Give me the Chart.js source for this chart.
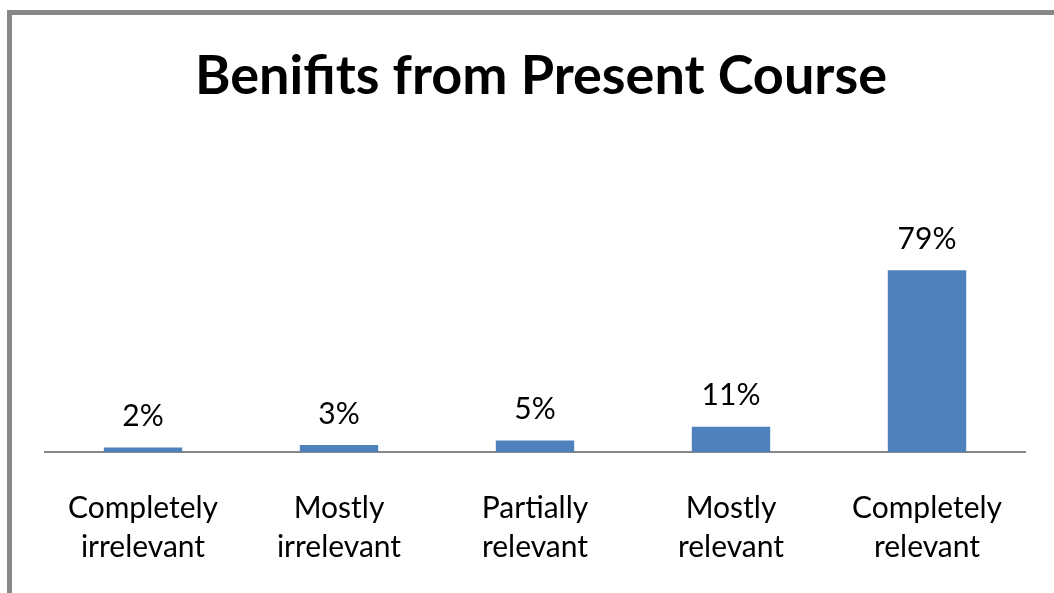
<!DOCTYPE html>
<html>
<head>
<meta charset="utf-8">
<script src="https://cdn.jsdelivr.net/npm/chart.js@4.4.1/dist/chart.umd.min.js"></script>
<style>
  body { margin: 0; background: #fff; }
  #wrap { position: relative; width: 1054px; height: 593px; overflow: hidden; }
  #frame { position: absolute; left: 7px; top: 10px; width: 1100px; height: 700px;
           border-left: 5px solid #888; border-top: 5px solid #888; }
  canvas { position: absolute; left: 0; top: 0; }
</style>
</head>
<body>
<div id="wrap">
  <div id="frame"></div>
  <canvas id="chart" width="1054" height="593"></canvas>
</div>
<script>
const chartTitle = 'Benifits from Present Course';
const categories = [
    ['Completely', 'irrelevant'],
    ['Mostly', 'irrelevant'],
    ['Partially', 'relevant'],
    ['Mostly', 'relevant'],
    ['Completely', 'relevant']
];
const percentages = [2, 3, 5, 11, 79];

const fontFamily = 'Lato, "Open Sans", sans-serif';

// title and value labels drawn on the canvas
const labelsPlugin = {
    id: 'labels',
    afterDatasetsDraw(chart) {
        const ctx = chart.ctx;
        ctx.save();
        ctx.fillStyle = '#000';
        ctx.textAlign = 'center';
        ctx.textBaseline = 'middle';
        ctx.font = '30px ' + fontFamily;
        chart.getDatasetMeta(0).data.forEach((bar, i) => {
            ctx.fillText(percentages[i] + '%', bar.x, bar.y - 31);
        });
        ctx.font = 'bold 54px ' + fontFamily;
        ctx.fillText(chartTitle, 541, 77);
        ctx.restore();
    }
};

const ctx = document.getElementById('chart').getContext('2d');
const chart = new Chart(ctx, {
    type: 'bar',
    data: {
        labels: categories,
        datasets: [{
            data: percentages,
            backgroundColor: '#4F81BD',
            borderWidth: 0,
            barPercentage: 0.5,
            categoryPercentage: 0.8
        }]
    },
    options: {
        responsive: false,
        animation: false,
        layout: { padding: { left: 45, right: 29, top: 245, bottom: 0 } },
        plugins: {
            legend: { display: false },
            title: { display: false },
            tooltip: { enabled: false }
        },
        scales: {
            x: {
                grid: { display: false, drawTicks: false },
                border: { color: '#888', width: 2 },
                afterFit(scale) { scale.height = 141; },
                ticks: {
                    color: '#000',
                    padding: 37,
                    maxRotation: 0,
                    font: { family: fontFamily, size: 30, lineHeight: 1.3 }
                }
            },
            y: {
                display: false,
                min: 0,
                max: 90
            }
        }
    },
    plugins: [labelsPlugin]
});
</script>
</body>
</html>
